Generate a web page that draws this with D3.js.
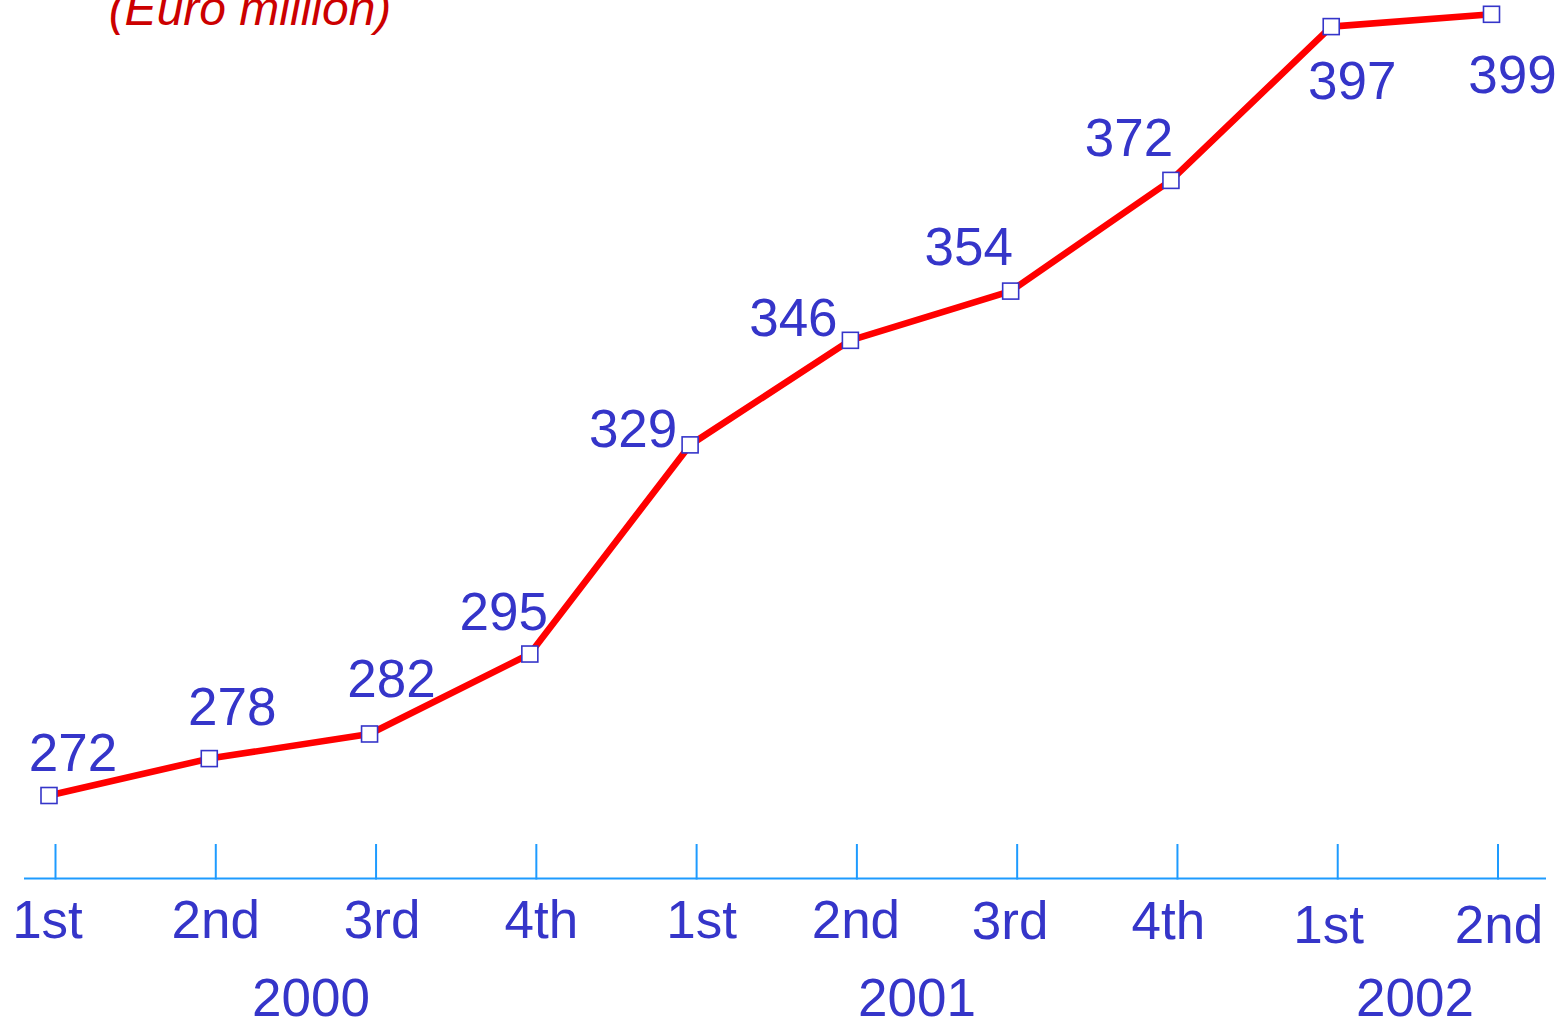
<!DOCTYPE html>
<html>
<head>
<meta charset="utf-8">
<script src="https://cdn.jsdelivr.net/npm/d3@7/dist/d3.min.js"></script>
<style>
  html, body { margin: 0; padding: 0; background: #ffffff; }
  svg { display: block; }
  text { font-family: "Liberation Sans", Arial, Helvetica, sans-serif; }
</style>
</head>
<body>
<svg id="chart" width="1564" height="1023"></svg>
<script>
// Quarterly values, Euro million
const quarters = ["1st", "2nd", "3rd", "4th", "1st", "2nd", "3rd", "4th", "1st", "2nd"];
const values = [272, 278, 282, 295, 329, 346, 354, 372, 397, 399];
const years = ["2000", "2001", "2002"];

// Label placement around each marker: [dx, dy to baseline]
const valueLabelOffsets = [
  [24, -25], [23, -34], [22, -37], [-26, -24], [-57, 2],
  [-57, -4], [-42, -26], [-42, -24], [21, 72], [21, 79]
];
const quarterLabelDx = [-8, 0, 6, 5, 5, -1, -7, -9, -9, 1];
const quarterLabelBaseline = [938, 938, 938, 938, 938, 938, 939, 939, 943, 943];
const yearLabelX = [311, 917, 1415];

const BLUE = "#3535c9";
const RED = "#ff0000";
const AXIS = "#1e9bff";

const svg = d3.select("#chart");

const idx = d3.range(values.length);
const x = d3.scalePoint().domain(idx).range([49, 1491.5]);
const y = d3.scaleLinear().domain([272, 399]).range([795.5, 14.3]);

// Quarter axis: ticks sit a little to the right of the data points
const tickShift = 6.5;
const axisY = 878.5;
svg.append("line")
  .attr("x1", 24).attr("x2", 1546)
  .attr("y1", axisY).attr("y2", axisY)
  .attr("stroke", AXIS).attr("stroke-width", 2);

svg.append("g").selectAll("line")
  .data(idx)
  .join("line")
  .attr("x1", d => x(d) + tickShift).attr("x2", d => x(d) + tickShift)
  .attr("y1", 844).attr("y2", axisY + 1)
  .attr("stroke", AXIS).attr("stroke-width", 2);

svg.append("g").selectAll("text")
  .data(idx)
  .join("text")
  .attr("x", d => x(d) + tickShift + quarterLabelDx[d])
  .attr("y", d => quarterLabelBaseline[d])
  .attr("text-anchor", "middle")
  .attr("font-size", 53)
  .attr("fill", BLUE)
  .text(d => quarters[d]);

svg.append("g").selectAll("text")
  .data(years)
  .join("text")
  .attr("x", (d, i) => yearLabelX[i])
  .attr("y", 1016)
  .attr("text-anchor", "middle")
  .attr("font-size", 53)
  .attr("fill", BLUE)
  .text(d => d);

// Unit title
svg.append("text")
  .attr("x", 250).attr("y", 25)
  .attr("text-anchor", "middle")
  .attr("font-size", 48)
  .attr("font-style", "italic")
  .attr("fill", "#cc0000")
  .text("(Euro million)");

// Series line
const line = d3.line()
  .x(d => x(d))
  .y(d => y(values[d]));

svg.append("path")
  .datum(idx)
  .attr("d", line)
  .attr("fill", "none")
  .attr("stroke", RED)
  .attr("stroke-width", 6.6)
  .attr("stroke-linejoin", "round");

// Square markers
const m = 16;
svg.append("g").selectAll("rect")
  .data(idx)
  .join("rect")
  .attr("x", d => x(d) - m / 2)
  .attr("y", d => y(values[d]) - m / 2)
  .attr("width", m).attr("height", m)
  .attr("fill", "#ffffff")
  .attr("stroke", BLUE)
  .attr("stroke-width", 1.6);

// Value labels
svg.append("g").selectAll("text")
  .data(idx)
  .join("text")
  .attr("x", d => x(d) + valueLabelOffsets[d][0])
  .attr("y", d => y(values[d]) + valueLabelOffsets[d][1])
  .attr("text-anchor", "middle")
  .attr("font-size", 53)
  .attr("fill", BLUE)
  .text(d => values[d]);
</script>
</body>
</html>
